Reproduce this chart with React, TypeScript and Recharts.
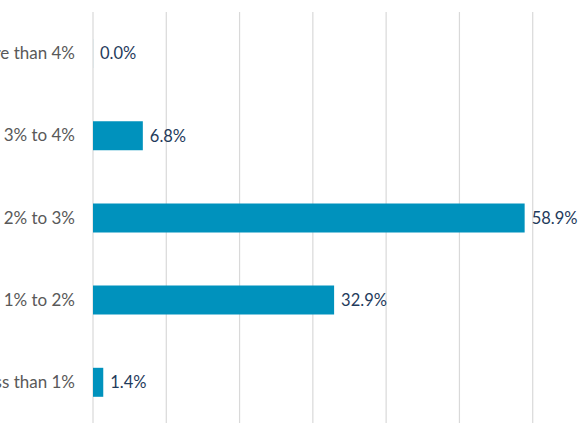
import React from 'react';
import { BarChart, Bar, XAxis, YAxis, CartesianGrid, LabelList } from 'recharts';

const categories = ['More than 4%', '3% to 4%', '2% to 3%', '1% to 2%', 'Less than 1%'];
const shares = [0.0, 6.8, 58.9, 32.9, 1.4];
const xTicks = [0, 10, 20, 30, 40, 50, 60, 70];

const chartData = categories.map((name, i) => ({ name, share: shares[i] }));

const BAR_COLOR = '#0092bd';
const LABEL_COLOR = '#1f3b5c';
const CATEGORY_COLOR = '#595959';
const FONT = 'Lato, "Open Sans", sans-serif';

const ValueLabel = (props: any) => {
  const { x, y, width, height, value } = props;
  return (
    <text
      x={Number(x) + Number(width || 0) + 7}
      y={Number(y) + Number(height) / 2}
      dy="0.36em"
      fill={LABEL_COLOR}
      fontSize={16.5}
      fontFamily={FONT}
    >
      {`${Number(value).toFixed(1)}%`}
    </text>
  );
};

export default function App() {
  return (
    <div style={{ position: 'absolute', left: 0, top: 0, width: 580, height: 435, overflow: 'hidden', background: '#fff' }}>
      <div style={{ position: 'absolute', left: -60, top: 0 }}>
        <BarChart
          width={720}
          height={435}
          data={chartData}
          layout="vertical"
          barSize={29}
          margin={{ top: 12, right: 54, bottom: 12, left: 0 }}
          style={{ fontFamily: FONT }}
        >
          <CartesianGrid horizontal={false} stroke="#d9d9d9" strokeWidth={1.2} />
          <XAxis type="number" domain={[0, 70]} ticks={xTicks} hide />
          <YAxis
            type="category"
            dataKey="name"
            width={153}
            axisLine={false}
            tickLine={false}
            tickSize={0}
            tickMargin={18}
            tick={{ fill: CATEGORY_COLOR, fontSize: 17, fontFamily: FONT }}
          />
          {/* tiny min size keeps the 0% bar in the label list */}
          <Bar dataKey="share" fill={BAR_COLOR} minPointSize={0.05} isAnimationActive={false}>
            <LabelList dataKey="share" content={<ValueLabel />} />
          </Bar>
        </BarChart>
      </div>
    </div>
  );
}
